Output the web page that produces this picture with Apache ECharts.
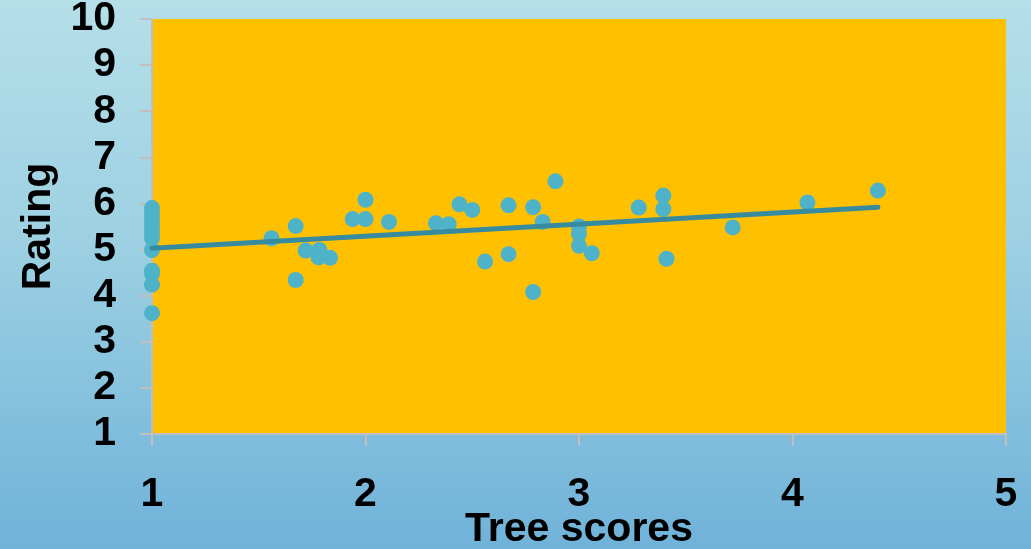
<!DOCTYPE html>
<html>
<head>
<meta charset="utf-8">
<script src="https://cdn.jsdelivr.net/npm/echarts@6/dist/echarts.min.js"></script>
<style>
html,body{margin:0;padding:0;}
#chart{width:1031px;height:549px;background:linear-gradient(to bottom,#B5DFE9 0%,#9CD0E2 45%,#70B2D9 100%);}
</style>
</head>
<body>
<div id="chart"></div>
<script>
const treeScores = [1,1,1,1,1,1,1,1,1,1,1,1,
  1.56,1.673,1.673,1.72,1.784,1.78,1.834,1.94,2.0,2.0,2.11,2.33,2.39,2.44,2.50,2.56,
  2.67,2.67,2.785,2.785,2.83,2.89,3.0,3.0,3.0,3.06,3.28,3.395,3.395,3.41,3.72,4.07,4.40];
const ratings = [5.9,5.78,5.66,5.55,5.45,5.35,5.25,4.99,4.54,4.48,4.24,3.62,
  5.245,5.51,4.34,4.98,4.99,4.83,4.82,5.66,6.08,5.66,5.6,5.57,5.55,5.98,5.86,4.74,
  5.96,4.90,5.92,4.08,5.6,6.48,5.50,5.34,5.08,4.92,5.91,6.17,5.88,4.80,5.48,6.02,6.28];
const trendX = [1, 4.40];
const trendY = [5.03, 5.92];
const xTicks = [1,2,3,4,5];
const yTicks = [1,2,3,4,5,6,7,8,9,10];

const points = treeScores.map((x,i)=>[x, ratings[i]]);
const trend = trendX.map((x,i)=>[x, trendY[i]]);

const chart = echarts.init(document.getElementById('chart'));
const font = '"Liberation Sans", Arial, sans-serif';
chart.setOption({
  backgroundColor: 'transparent',
  animation: false,
  grid: {left:152, right:25, top:19, bottom:115, show:true, backgroundColor:'#FFC000', borderWidth:0,
         containLabel:false, outerBoundsMode:'none'},
  xAxis: {
    type:'value', min:xTicks[0], max:xTicks[xTicks.length-1], interval:1,
    name:'Tree scores', nameLocation:'middle', nameGap:75, nameMoveOverlap:false,
    nameTextStyle:{color:'#000', fontFamily:font, fontWeight:'bold', fontSize:41},
    axisLine:{show:true, lineStyle:{color:'#BFBFBF', width:2}},
    axisTick:{show:true, length:12, lineStyle:{color:'#BFBFBF', width:2}},
    axisLabel:{color:'#000', fontFamily:font, fontWeight:'bold', fontSize:41, margin:40},
    splitLine:{show:false}
  },
  yAxis: {
    type:'value', min:yTicks[0], max:yTicks[yTicks.length-1], interval:1,
    name:'Rating', nameLocation:'middle', nameGap:93, nameRotate:90, nameMoveOverlap:false,
    nameTextStyle:{color:'#000', fontFamily:font, fontWeight:'bold', fontSize:41},
    axisLine:{show:true, lineStyle:{color:'#BFBFBF', width:2}},
    axisTick:{show:true, length:12, lineStyle:{color:'#BFBFBF', width:2}},
    axisLabel:{color:'#000', fontFamily:font, fontWeight:'bold', fontSize:41, margin:36},
    splitLine:{show:false}
  },
  series: [
    {type:'scatter', data:points, symbolSize:16, itemStyle:{color:'#4EB3C9', opacity:1}, z:2},
    {type:'line', data:trend, symbol:'none', lineStyle:{color:'#368C9E', width:5, cap:'round'}, z:3}
  ]
});
</script>
</body>
</html>
